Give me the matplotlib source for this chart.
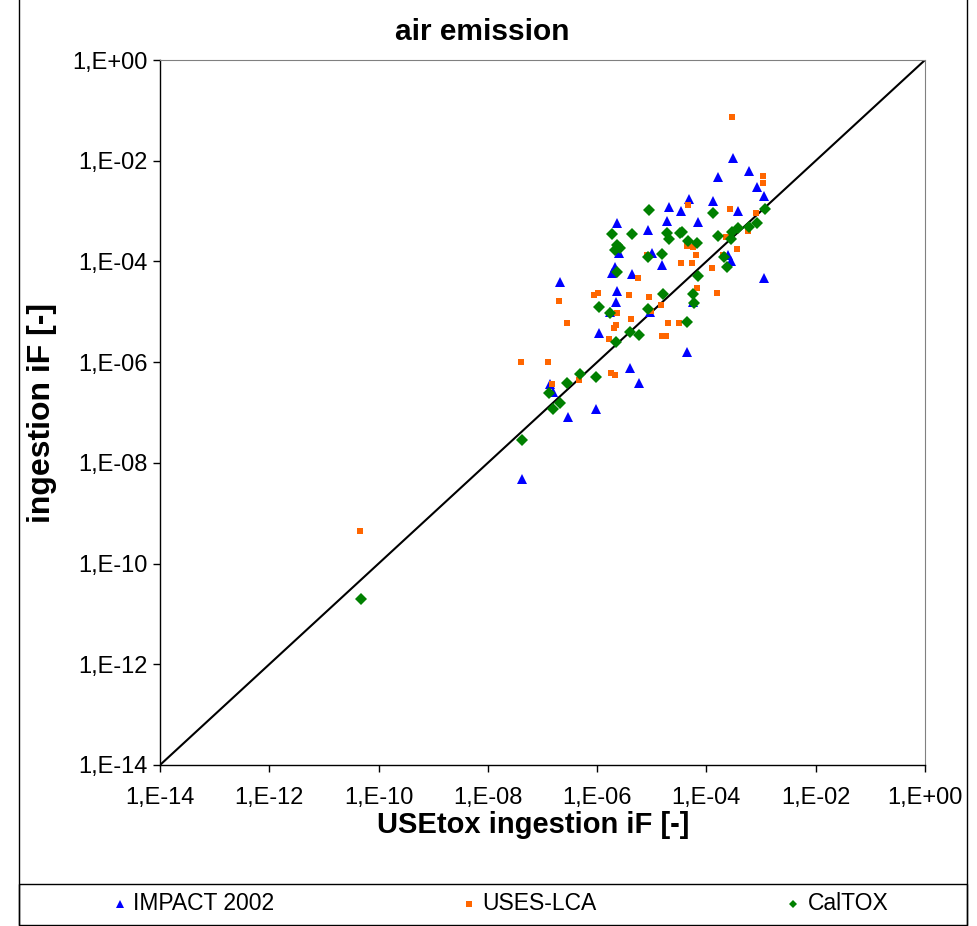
import numpy as np
import matplotlib
matplotlib.use("Agg")
from matplotlib import pyplot as plt
from matplotlib.lines import Line2D
from matplotlib.patches import Rectangle
from matplotlib.ticker import FixedLocator, FuncFormatter

plt.rcParams['font.family'] = ['Liberation Sans', 'DejaVu Sans']

# values, as log10 of the intake fraction
impact_x = [-7.38, -6.86, -6.81, -6.53, -6.02, -6.68, -5.97, -5.76, -5.73, -5.67,
            -5.64, -5.65, -5.64, -5.60, -5.36, -5.40, -5.23, -5.07, -5.03, -5.00,
            -4.81, -4.72, -4.68, -4.46, -4.32, -4.15, -3.88, -3.79, -3.51, -3.42,
            -3.22, -3.07, -2.95, -2.95, -4.25, -4.36, -3.60, -3.55]
impact_y = [-8.32, -6.43, -6.59, -7.09, -6.93, -4.41, -5.42, -5.00, -4.23, -4.11,
            -4.59, -4.81, -3.24, -3.83, -4.25, -6.12, -6.41, -3.38, -5.00, -3.83,
            -4.07, -3.20, -2.92, -3.00, -2.76, -3.22, -2.80, -2.32, -1.95, -3.00,
            -2.20, -2.52, -2.70, -4.33, -4.81, -5.80, -3.87, -3.99]

uses_x = [-10.34, -7.39, -6.90, -6.83, -6.70, -6.55, -6.33, -6.06, -5.98, -5.78,
          -5.75, -5.67, -5.64, -5.65, -5.69, -5.42, -5.25, -5.38, -5.09, -5.05,
          -4.83, -5.01, -4.70, -4.50, -4.81, -4.74, -4.46, -4.26, -4.19, -4.17,
          -3.90, -3.81, -3.70, -3.44, -3.53, -2.96, -2.96, -4.34, -3.57, -3.09,
          -3.24, -3.64, -4.36, -4.25]
uses_y = [-9.35, -6.00, -6.00, -6.43, -4.79, -5.22, -6.35, -4.67, -4.63, -5.54,
          -6.22, -6.26, -5.02, -5.26, -5.32, -4.67, -4.33, -5.14, -3.87, -4.71,
          -4.87, -4.98, -5.22, -5.22, -5.48, -5.48, -4.03, -4.03, -3.87, -4.53,
          -4.13, -4.63, -3.87, -3.75, -1.13, -2.30, -2.44, -2.88, -2.96, -3.04,
          -3.40, -3.51, -3.69, -3.71]

caltox_x = [-10.32, -7.38, -6.88, -6.81, -6.68, -6.55, -6.31, -6.02, -5.97, -5.76,
            -5.64, -5.40, -5.23, -5.65, -5.73, -5.36, -5.64, -5.67, -5.58, -5.05,
            -5.07, -5.07, -3.88, -4.72, -4.68, -4.48, -4.45, -4.34, -4.17, -3.79,
            -3.53, -3.42, -3.55, -3.22, -3.07, -2.93, -4.81, -3.68, -3.62, -4.15,
            -4.79, -4.25, -4.23, -4.36]
caltox_y = [-10.70, -7.55, -6.61, -6.93, -6.81, -6.41, -6.24, -6.29, -4.90, -5.02,
            -4.21, -5.40, -5.46, -5.60, -3.46, -3.46, -3.67, -3.77, -3.73, -2.98,
            -3.91, -4.94, -3.04, -3.44, -3.55, -3.44, -3.42, -3.59, -3.63, -3.49,
            -3.42, -3.34, -3.55, -3.32, -3.24, -2.96, -3.85, -3.91, -4.11, -4.29,
            -4.65, -4.65, -4.83, -5.20]

tick_exps = [-14, -12, -10, -8, -6, -4, -2, 0]

series = [
    ("IMPACT 2002", impact_x, impact_y, "^", "#0000FF", 7),
    ("USES-LCA", uses_x, uses_y, "s", "#FF6600", 5),
    ("CalTOX", caltox_x, caltox_y, "D", "#008000", 5.8),
]

W, H = 977, 926
fig = plt.figure(figsize=(W / 100, H / 100), dpi=100)
ax = fig.add_axes([160 / W, 1 - 765 / H, 765 / W, 705 / H])

for name, xs, ys, mk, col, ms in series:
    ax.plot(10.0 ** np.array(xs), 10.0 ** np.array(ys), linestyle="none",
            marker=mk, color=col, markersize=ms, markeredgewidth=0)

lo, hi = 10.0 ** tick_exps[0], 10.0 ** tick_exps[-1]
ax.plot([lo, hi], [lo, hi], color="black", linewidth=1.5, zorder=1)

ax.set_xscale("log")
ax.set_yscale("log")
ax.set_xlim(lo, hi)
ax.set_ylim(lo, hi)

ticks = [10.0 ** e for e in tick_exps]
fmt = FuncFormatter(lambda v, p: "1,E%+03d" % round(np.log10(v)))
for a in (ax.xaxis, ax.yaxis):
    a.set_major_locator(FixedLocator(ticks))
    a.set_major_formatter(fmt)
    a.set_minor_locator(FixedLocator([]))
ax.tick_params(axis="both", direction="out", length=5, width=1, labelsize=17)
ax.tick_params(axis="x", pad=11)
ax.tick_params(axis="y", pad=4)

for s in ("top", "right"):
    ax.spines[s].set_color("#808080")
ax.spines["left"].set_linewidth(1)
ax.spines["bottom"].set_linewidth(1)

fig.text(482 / W, 1 - 32 / H, "air emission", ha="center", va="center",
         fontsize=21.5, fontweight="bold")
fig.text(533 / W, 1 - 825 / H, "USEtox ingestion iF [-]", ha="center",
         va="center", fontsize=21, fontweight="bold")
fig.text(42 / W, 1 - 413 / H, "ingestion iF [-]", ha="center", va="center",
         fontsize=23, fontweight="bold", rotation=90)

# chart frame and legend box
fig.add_artist(Line2D([19 / W, 19 / W], [0, 1], transform=fig.transFigure,
                      color="black", linewidth=1))
fig.add_artist(Line2D([967 / W, 967 / W], [0, 1], transform=fig.transFigure,
                      color="black", linewidth=1))
fig.add_artist(Rectangle((19 / W, 1 - 925 / H), 948 / W, 41 / H,
                         transform=fig.transFigure, fill=False,
                         edgecolor="black", linewidth=1))

leg_pos = [(120, 133), (469, 482), (793, 808)]
ly = 1 - 904 / H
for (mx, tx), (name, xs, ys, mk, col, ms) in zip(leg_pos, series):
    fig.add_artist(Line2D([mx / W], [ly], transform=fig.transFigure,
                          linestyle="none", marker=mk, color=col,
                          markersize=ms * 0.75, markeredgewidth=0))
    fig.text(tx / W, ly, name, ha="left", va="center", fontsize=16.5)

plt.savefig("out.png", dpi=100)
